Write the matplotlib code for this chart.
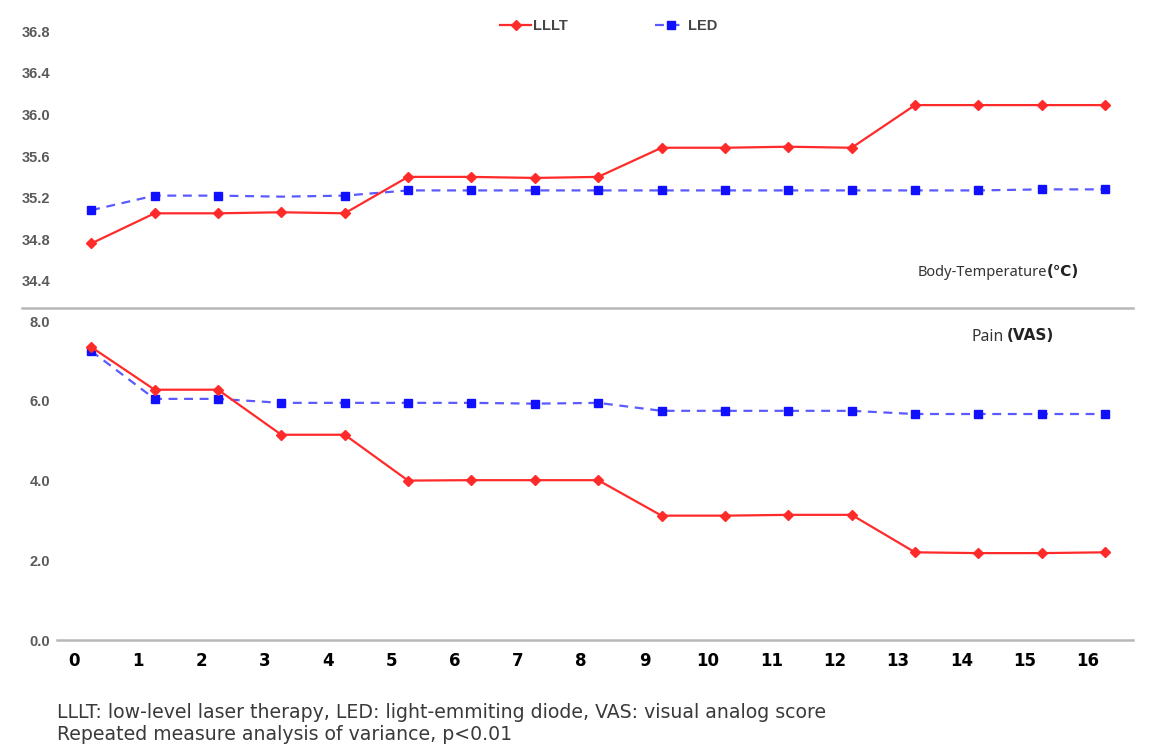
import matplotlib
matplotlib.use("Agg")
import matplotlib.pyplot as plt
from matplotlib.lines import Line2D
import matplotlib.transforms as mtransforms

sessions = list(range(17))
xtick_labels = [str(s) for s in sessions]

temp_lllt = [34.76, 35.05, 35.05, 35.06, 35.05, 35.40, 35.40, 35.39, 35.40,
             35.68, 35.68, 35.69, 35.68, 36.09, 36.09, 36.09, 36.09]
temp_led = [35.08, 35.22, 35.22, 35.21, 35.22, 35.27, 35.27, 35.27, 35.27,
            35.27, 35.27, 35.27, 35.27, 35.27, 35.27, 35.28, 35.28]
pain_lllt = [7.35, 6.28, 6.28, 5.15, 5.15, 4.00, 4.01, 4.01, 4.01,
             3.12, 3.12, 3.14, 3.14, 2.20, 2.18, 2.18, 2.20]
pain_led = [7.25, 6.05, 6.05, 5.95, 5.95, 5.95, 5.95, 5.93, 5.95,
            5.75, 5.75, 5.75, 5.75, 5.67, 5.67, 5.67, 5.67]
temp_ticks = [34.4, 34.8, 35.2, 35.6, 36.0, 36.4, 36.8]
pain_ticks = [0.0, 2.0, 4.0, 6.0, 8.0]

W, H = 1151, 755
fig = plt.figure(figsize=(W / 100, H / 100), dpi=100)

def fx(px):
    return px / W

def fy(py):
    return 1 - py / H

left, right = 57, 1133
ax_t = fig.add_axes([fx(left), fy(308), fx(right - left), 308 / H])
ax_b = fig.add_axes([fx(left), fy(640), fx(right - left), (640 - 308) / H])

red = "#ff2a2a"
blue_line = "#5a5aff"
blue_mk = "#1010ff"
tick_col = "#5a5a5a"

lllt_kw = dict(color=red, lw=1.6, marker="D", markersize=5, markerfacecolor=red,
               markeredgecolor=red)
led_kw = dict(color=blue_line, lw=1.6, ls=(0, (4, 3)), marker="s", markersize=6,
              markerfacecolor=blue_mk, markeredgecolor=blue_mk)

ax_t.plot(sessions, temp_led, markevery=[i for i in sessions if i != 3], **led_kw)
ax_t.plot(sessions, temp_lllt, **lllt_kw)
ax_b.plot(sessions, pain_led, **led_kw)
ax_b.plot(sessions, pain_lllt, **lllt_kw)

xl = (-0.54, 16.44)
for ax in (ax_t, ax_b):
    ax.set_xlim(*xl)
    for s in ax.spines.values():
        s.set_visible(False)
    ax.set_facecolor("none")

ax_t.set_ylim(34.14, 37.1)
ax_t.set_yticks(temp_ticks)
ax_t.set_yticklabels([f"{v:.1f}" for v in temp_ticks])
ax_t.set_xticks([])
ax_t.tick_params(axis="y", length=0, pad=5, labelsize=10.5, labelcolor=tick_col)

ax_b.set_ylim(0, 8.33)
ax_b.set_yticks(pain_ticks)
ax_b.set_yticklabels([f"{v:.1f}" for v in pain_ticks])
ax_b.tick_params(axis="y", length=0, pad=5, labelsize=10.5, labelcolor=tick_col)
ax_b.spines["bottom"].set_visible(True)
ax_b.spines["bottom"].set_color("#b8b8b8")
ax_b.spines["bottom"].set_linewidth(1.8)
ax_b.set_xticks(sessions)
ax_b.set_xticklabels(xtick_labels, fontsize=12, fontweight="bold",
                     family="DejaVu Sans", color="black")
ax_b.tick_params(axis="x", length=0, pad=9)
offset = mtransforms.ScaledTranslation(-17 / 100, 0, fig.dpi_scale_trans)
for lab in ax_b.get_xticklabels():
    lab.set_transform(lab.get_transform() + offset)
for ax in (ax_t, ax_b):
    for lab in ax.get_yticklabels():
        lab.set_fontfamily("Liberation Sans")
        lab.set_fontweight("bold")

# separator line
fig.add_artist(Line2D([fx(22), fx(1133)], [fy(308), fy(308)], color="#b8b8b8", lw=1.8))

# panel labels
fig.text(fx(1047), fy(273), "Body-Temperature", ha="right", va="center",
         fontsize=10.5, family=["Noto Sans", "DejaVu Sans"], color="#333333")
fig.text(fx(1047), fy(272), "(℃)", ha="left", va="center", fontsize=11,
         fontweight="bold", family=["DejaVu Sans"], color="#222222")
fig.text(fx(1004), fy(337), "Pain", ha="right", va="center",
         fontsize=11.3, family=["Noto Sans", "DejaVu Sans"], color="#333333")
fig.text(fx(1007), fy(336), "(VAS)", ha="left", va="center", fontsize=11,
         fontweight="bold", family=["DejaVu Sans"], color="#222222")

# legend
handles = [Line2D([], [], **lllt_kw), Line2D([], [], **led_kw)]
leg = fig.legend(handles, ["LLLT", "LED"], loc="center", bbox_to_anchor=(fx(609), fy(26)),
                 ncol=2, frameon=False, handlelength=2.1, handletextpad=0.15,
                 columnspacing=6.0, prop={"family": "Liberation Sans", "weight": "bold", "size": 10.5})
for t in leg.get_texts():
    t.set_color("#444444")

# footer
fig.text(fx(57), fy(712), "LLLT: low-level laser therapy, LED: light-emmiting diode, VAS: visual analog score",
         ha="left", va="center", fontsize=13.6, family="DejaVu Sans", color="#3a3a3a")
fig.text(fx(57), fy(735), "Repeated measure analysis of variance, p<0.01",
         ha="left", va="center", fontsize=13.6, family="DejaVu Sans", color="#3a3a3a")

fig.savefig("out.png", dpi=100)
